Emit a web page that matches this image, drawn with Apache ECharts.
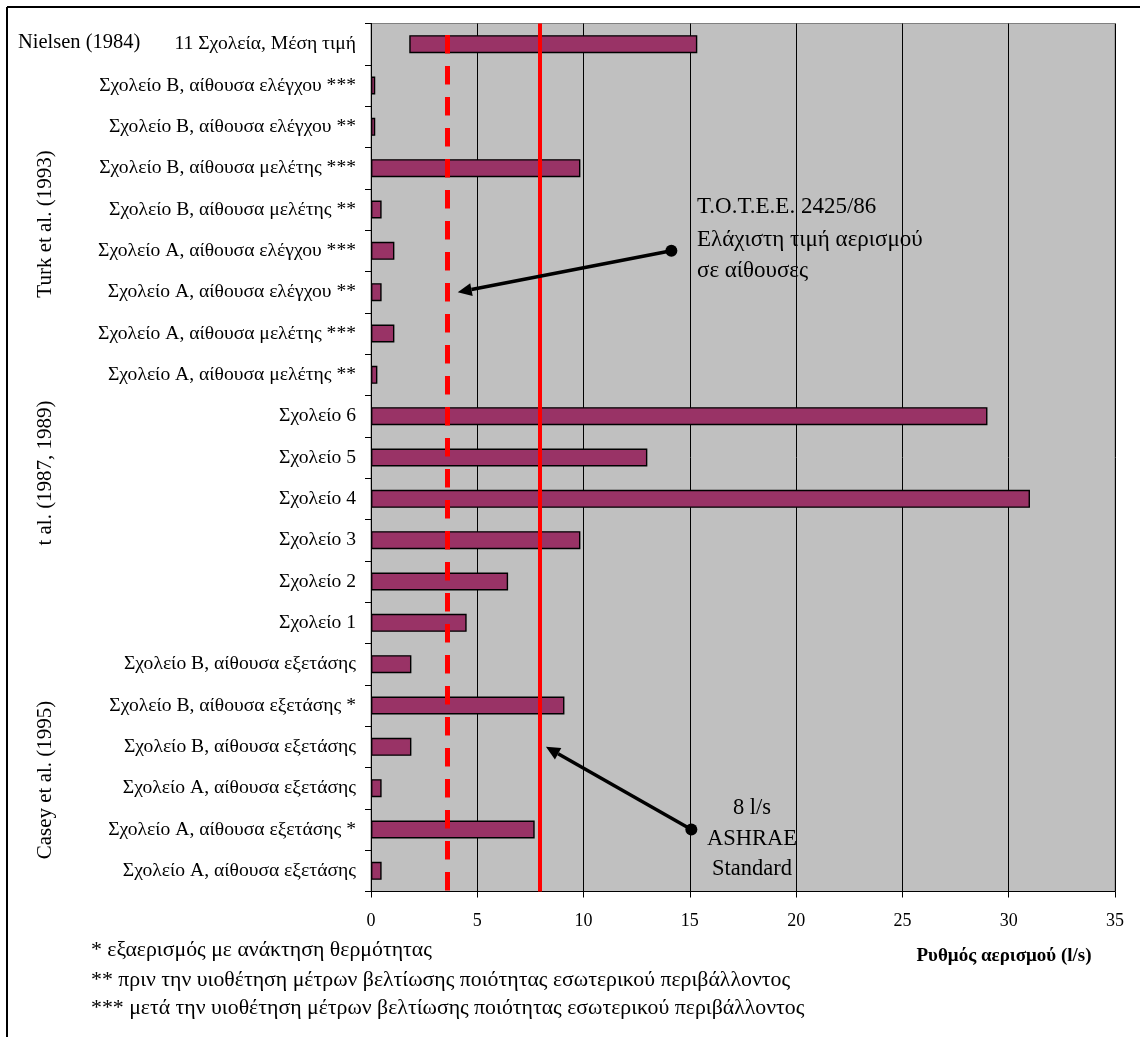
<!DOCTYPE html>
<html>
<head>
<meta charset="utf-8">
<script src="https://cdn.jsdelivr.net/npm/echarts@6/dist/echarts.min.js"></script>
<style>
html,body{margin:0;padding:0;background:#fff;}
#chart{width:1140px;height:1037px;}
</style>
</head>
<body>
<div id="chart"></div>
<script>
// ---- data ----
const categories = [
  '11 Σχολεία, Μέση τιμή',
  'Σχολείο Β, αίθουσα ελέγχου ***',
  'Σχολείο Β, αίθουσα ελέγχου **',
  'Σχολείο Β, αίθουσα μελέτης ***',
  'Σχολείο Β, αίθουσα μελέτης **',
  'Σχολείο Α, αίθουσα ελέγχου ***',
  'Σχολείο Α, αίθουσα ελέγχου **',
  'Σχολείο Α, αίθουσα μελέτης ***',
  'Σχολείο Α, αίθουσα μελέτης **',
  'Σχολείο 6',
  'Σχολείο 5',
  'Σχολείο 4',
  'Σχολείο 3',
  'Σχολείο 2',
  'Σχολείο 1',
  'Σχολείο Β, αίθουσα εξετάσης',
  'Σχολείο Β, αίθουσα εξετάσης *',
  'Σχολείο Β, αίθουσα εξετάσης',
  'Σχολείο Α, αίθουσα εξετάσης',
  'Σχολείο Α, αίθουσα εξετάσης *',
  'Σχολείο Α, αίθουσα εξετάσης'
];
const barStart = [1.8, 0, 0, 0, 0, 0, 0, 0, 0, 0, 0, 0, 0, 0, 0, 0, 0, 0, 0, 0, 0];
const barEnd   = [15.35, 0.2, 0.2, 9.85, 0.5, 1.1, 0.5, 1.1, 0.3, 29, 13, 31, 9.85, 6.45, 4.5, 1.9, 9.1, 1.9, 0.5, 7.7, 0.5];
const xTickValues = [0, 5, 10, 15, 20, 25, 30, 35];
const refLineValues = [3.58, 7.95];   // Τ.Ο.Τ.Ε.Ε. minimum (dashed), ASHRAE 8 l/s (solid)
const groupLabels = ['Nielsen (1984)', 'Turk et al. (1993)', 't al. (1987, 1989)', 'Casey et al. (1995)'];
const noteTotee = ['Τ.Ο.Τ.Ε.Ε. 2425/86', 'Ελάχιστη τιμή αερισμού', 'σε αίθουσες'];
const noteAshrae = ['8 l/s', 'ASHRAE', 'Standard'];
const footnotes = [
  '* εξαερισμός με ανάκτηση θερμότητας',
  '** πριν την υιοθέτηση μέτρων βελτίωσης ποιότητας εσωτερικού περιβάλλοντος',
  '*** μετά την υιοθέτηση μέτρων βελτίωσης ποιότητας εσωτερικού περιβάλλοντος'
];
const axisTitle = 'Ρυθμός αερισμού (l/s)';
// arrow anchors in data units [x value, category index]
const arrowFrom = [[14.13, 4.94], [15.07, 19.09]];
const arrowTo   = [[4.08, 6.17], [8.23, 16.91]];

// ---- chart ----
const FONT = '"Liberation Serif", "Times New Roman", serif';
const chart = echarts.init(document.getElementById('chart'), null, {renderer: 'canvas'});
const barLen = barEnd.map((v, i) => +(v - barStart[i]).toFixed(3));

const option = {
  animation: false,
  backgroundColor: '#ffffff',
  grid: {
    left: 371, top: 23.5, right: 25, bottom: 145.5,
    show: true, backgroundColor: '#C0C0C0', borderColor: '#808080', borderWidth: 1
  },
  xAxis: {
    type: 'value', min: 0, max: 35, interval: 5,
    axisLine: {show: true, onZero: false, lineStyle: {color: '#000', width: 1}},
    axisTick: {show: true, length: 6, lineStyle: {color: '#000'}},
    splitLine: {show: true, lineStyle: {color: '#000', width: 1}},
    axisLabel: {
      fontFamily: FONT, fontSize: 18, color: '#000', margin: 21,
      formatter: v => xTickValues.indexOf(v) >= 0 ? String(v) : ''
    }
  },
  yAxis: {
    type: 'category', data: categories, inverse: true,
    axisLine: {show: true, lineStyle: {color: '#000', width: 1}},
    axisTick: {show: true, length: 6, lineStyle: {color: '#000'}},
    splitLine: {show: false},
    axisLabel: {fontFamily: FONT, fontSize: 19.6, color: '#000', margin: 15}
  },
  series: [
    {
      type: 'bar', stack: 'r', data: barStart, barWidth: 18, silent: true,
      itemStyle: {color: 'rgba(0,0,0,0)', borderWidth: 0}
    },
    {
      type: 'bar', stack: 'r', data: barLen, barWidth: 18,
      itemStyle: {color: '#993366', borderColor: '#000', borderWidth: 1.4},
      markLine: {
        silent: true, symbol: ['none', 'none'], label: {show: false},
        data: [
          {xAxis: refLineValues[0], lineStyle: {color: '#FF0000', width: 5, type: [18.5, 12.5], dashOffset: 19.5}},
          {xAxis: refLineValues[1], lineStyle: {color: '#FF0000', width: 4, type: 'solid'}}
        ]
      }
    }
  ]
};
chart.setOption(option);

// ---- annotations ----
const g = [];
// outer frame (top & left edges)
g.push({type: 'line', shape: {x1: 7, y1: 7, x2: 1140, y2: 7}, style: {stroke: '#000', lineWidth: 2}});
g.push({type: 'line', shape: {x1: 7, y1: 7, x2: 7, y2: 1037}, style: {stroke: '#000', lineWidth: 2}});

// arrows
for (let i = 0; i < arrowFrom.length; i++) {
  const p0 = chart.convertToPixel({gridIndex: 0}, arrowFrom[i]);
  const p1 = chart.convertToPixel({gridIndex: 0}, arrowTo[i]);
  const ang = Math.atan2(p1[1] - p0[1], p1[0] - p0[0]);
  const hl = 14, hw = 6.5;
  const bx = p1[0] - hl * Math.cos(ang), by = p1[1] - hl * Math.sin(ang);
  const nx = -Math.sin(ang), ny = Math.cos(ang);
  g.push({type: 'line', z: 100, shape: {x1: p0[0], y1: p0[1], x2: bx, y2: by}, style: {stroke: '#000', lineWidth: 3.5}});
  g.push({type: 'polygon', z: 100, shape: {points: [[p1[0], p1[1]], [bx + nx * hw, by + ny * hw], [bx - nx * hw, by - ny * hw]]}, style: {fill: '#000'}});
  g.push({type: 'circle', z: 100, shape: {cx: p0[0], cy: p0[1], r: 6}, style: {fill: '#000'}});
}

// annotation texts
const tText = (txt, x, y, opts) => ({
  type: 'text', z: 100, x: x, y: y,
  style: Object.assign({text: txt, fontFamily: FONT, fontSize: 23, fill: '#000', textAlign: 'left', textVerticalAlign: 'middle'}, opts || {})
});
const toteeY = [207, 240, 271];
noteTotee.forEach((t, i) => g.push(tText(t, 697, toteeY[i])));
const ashraeY = [808, 839, 869];
noteAshrae.forEach((t, i) => g.push(tText(t, 752, ashraeY[i], {textAlign: 'center', fontSize: 22.5})));

// group labels
g.push(tText(groupLabels[0], 18, 43, {fontSize: 20.5}));
const groupCenters = [224, 473, 780];
for (let i = 1; i < groupLabels.length; i++) {
  g.push({
    type: 'text', z: 100, x: 45, y: groupCenters[i - 1], rotation: Math.PI / 2,
    style: {text: groupLabels[i], fontFamily: FONT, fontSize: 21, fill: '#000', textAlign: 'center', textVerticalAlign: 'middle'}
  });
}

// footnotes
const footY = [950, 980, 1008];
footnotes.forEach((t, i) => g.push(tText(t, 91, footY[i], {fontSize: 21.8})));

// axis title
g.push(tText(axisTitle, 1004, 956, {fontSize: 19, fontWeight: 'bold', textAlign: 'center'}));

chart.setOption({graphic: g});
</script>
</body>
</html>
